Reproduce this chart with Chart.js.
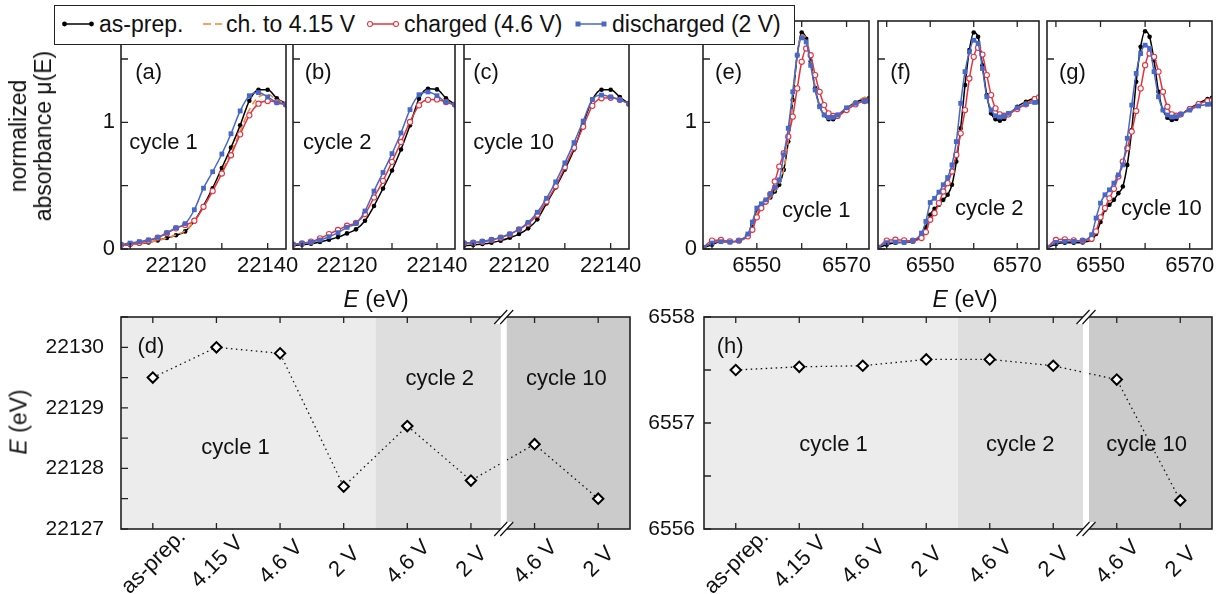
<!DOCTYPE html>
<html>
<head>
<meta charset="utf-8">
<title>XANES cycles</title>
<script src="https://cdn.jsdelivr.net/npm/chart.js@4.4.1/dist/chart.umd.min.js"></script>
<style>
  body { margin: 0; background: #fff; }
  #page { position: relative; width: 1225px; height: 594px; overflow: hidden; font-family: 'Liberation Sans', Arial, sans-serif; color: #111; }
  #page canvas { position: absolute; left: 0; top: 0; }
  .lbl { position: absolute; font-size: 23px; white-space: nowrap; transform: translate(-50%, -50%); line-height: 25px; text-align: center; z-index: 5; }
  .rot { transform: translate(-50%, -50%) rotate(-90deg); }
  #legend { position: absolute; left: 54px; top: 5px; width: 741px; height: 40px; box-sizing: border-box; border: 1.5px solid #222; background: #fff; z-index: 6; font-size: 23px; }
  #legend span, #legend svg { position: absolute; }
  #legend span { top: 50%; transform: translateY(-52%); white-space: nowrap; }
  #legend svg { top: 11px; }
</style>
</head>
<body>
<div id="page">
  <div id="legend">
    <svg style="left:7px" width="32" height="14"><line x1="2" y1="7" x2="30" y2="7" stroke="#000" stroke-width="1.5"/><circle cx="2.5" cy="7" r="2.4" fill="#000"/><circle cx="29.5" cy="7" r="2.4" fill="#000"/></svg>
    <span style="left:44px">as-prep.</span>
    <svg style="left:136px" width="32" height="14"><line x1="12" y1="7" x2="20" y2="7" stroke="#f58a3a" stroke-width="1.6"/><line x1="24" y1="7" x2="31" y2="7" stroke="#f58a3a" stroke-width="1.6"/></svg>
    <span style="left:171px">ch. to 4.15 V</span>
    <svg style="left:312px" width="32" height="14"><line x1="2" y1="7" x2="30" y2="7" stroke="#e5323e" stroke-width="1.5"/><circle cx="3" cy="7" r="2.5" fill="#fff" stroke="#e5323e" stroke-width="1.1"/><circle cx="29" cy="7" r="2.5" fill="#fff" stroke="#e5323e" stroke-width="1.1"/></svg>
    <span style="left:349px">charged (4.6 V)</span>
    <svg style="left:520px" width="32" height="14"><line x1="2" y1="7" x2="30" y2="7" stroke="#4868c8" stroke-width="1.5"/><rect x="0.5" y="4.5" width="5" height="5" fill="#4868c8"/><rect x="26.5" y="4.5" width="5" height="5" fill="#4868c8"/></svg>
    <span style="left:557px">discharged (2 V)</span>
  </div>
  <div class="lbl rot" style="left:31px; top:136px">normalized<br>absorbance &mu;(E)</div>
  <div class="lbl" style="left:376px; top:299px"><i>E</i> (eV)</div>
  <div class="lbl" style="left:965px; top:299px"><i>E</i> (eV)</div>
  <div class="lbl rot" style="left:19px; top:422px"><i>E</i> (eV)</div>
</div>
<script>
// energies of the plotted points
var niEnergy = [22108, 22110, 22112, 22114, 22116, 22118, 22120, 22122, 22124, 22126, 22128, 22130, 22132, 22134, 22136, 22138, 22140, 22142, 22144]
var mnEnergy = [6538, 6540, 6542, 6544, 6546, 6548, 6549, 6550, 6551, 6552, 6553, 6554, 6555, 6556, 6557, 6558, 6559, 6560, 6561, 6562, 6563, 6564, 6565, 6566, 6567, 6568, 6570, 6572, 6574, 6575]

// Ni K-edge, cycle 1 / 2 / 10
var aAsPrep     = [0.029, 0.034, 0.042, 0.052, 0.068, 0.087, 0.108, 0.139, 0.22, 0.34, 0.48, 0.64, 0.80, 0.976, 1.17, 1.257, 1.257, 1.19, 1.147]
var aCh415      = [0.03, 0.035, 0.043, 0.053, 0.068, 0.088, 0.11, 0.145, 0.22, 0.33, 0.46, 0.61, 0.76, 0.93, 1.10, 1.20, 1.22, 1.18, 1.145]
var aCharged    = [0.031, 0.039, 0.05, 0.066, 0.089, 0.123, 0.163, 0.19, 0.223, 0.333, 0.457, 0.596, 0.74, 0.905, 1.055, 1.147, 1.168, 1.16, 1.14]
var aDischarged = [0.037, 0.047, 0.058, 0.071, 0.092, 0.129, 0.168, 0.20, 0.31, 0.48, 0.61, 0.75, 0.91, 1.09, 1.21, 1.235, 1.20, 1.155, 1.14]

var bAsPrep     = [0.029, 0.034, 0.042, 0.055, 0.073, 0.094, 0.123, 0.155, 0.223, 0.34, 0.478, 0.62, 0.785, 0.976, 1.186, 1.265, 1.26, 1.19, 1.142]
var bCharged    = [0.034, 0.045, 0.058, 0.084, 0.118, 0.15, 0.184, 0.207, 0.276, 0.407, 0.538, 0.688, 0.845, 1.003, 1.134, 1.178, 1.181, 1.16, 1.14]
var bDischarged = [0.037, 0.045, 0.055, 0.071, 0.097, 0.129, 0.171, 0.202, 0.30, 0.457, 0.604, 0.753, 0.916, 1.10, 1.218, 1.24, 1.21, 1.16, 1.14]

var cAsPrep     = [0.026, 0.031, 0.039, 0.05, 0.066, 0.089, 0.118, 0.163, 0.234, 0.36, 0.486, 0.627, 0.785, 0.99, 1.178, 1.257, 1.257, 1.2, 1.147]
var cCharged    = [0.045, 0.05, 0.058, 0.071, 0.089, 0.115, 0.155, 0.20, 0.27, 0.375, 0.495, 0.645, 0.80, 0.965, 1.13, 1.19, 1.194, 1.178, 1.147]
var cDischarged = [0.047, 0.052, 0.06, 0.073, 0.092, 0.118, 0.155, 0.21, 0.29, 0.40, 0.53, 0.68, 0.84, 1.01, 1.18, 1.215, 1.20, 1.178, 1.147]

// Mn K-edge, cycle 1 / 2 / 10
var eAsPrep     = [0.008, 0.034, 0.06, 0.055, 0.066, 0.113, 0.19, 0.297, 0.336, 0.37, 0.407, 0.454, 0.507, 0.625, 0.848, 1.176, 1.53, 1.709, 1.66, 1.48, 1.27, 1.13, 1.058, 1.024, 1.024, 1.045, 1.11, 1.157, 1.184, 1.19]
var eCh415      = [0.01, 0.05, 0.065, 0.055, 0.062, 0.105, 0.18, 0.28, 0.33, 0.365, 0.405, 0.455, 0.51, 0.63, 0.86, 1.19, 1.53, 1.69, 1.66, 1.49, 1.28, 1.13, 1.06, 1.03, 1.03, 1.05, 1.115, 1.165, 1.195, 1.2]
var eCharged    = [0.008, 0.066, 0.071, 0.06, 0.066, 0.10, 0.152, 0.25, 0.323, 0.375, 0.433, 0.533, 0.651, 0.756, 0.887, 1.045, 1.268, 1.478, 1.583, 1.53, 1.373, 1.241, 1.136, 1.071, 1.05, 1.052, 1.097, 1.142, 1.168, 1.173]
var eDischarged = [0.013, 0.047, 0.058, 0.055, 0.066, 0.118, 0.213, 0.323, 0.357, 0.388, 0.433, 0.486, 0.546, 0.743, 0.953, 1.241, 1.53, 1.667, 1.635, 1.45, 1.255, 1.123, 1.058, 1.037, 1.04, 1.058, 1.115, 1.15, 1.168, 1.17]

var fAsPrep     = [0.01, 0.034, 0.05, 0.052, 0.058, 0.108, 0.171, 0.27, 0.318, 0.349, 0.388, 0.428, 0.507, 0.69, 0.953, 1.294, 1.57, 1.709, 1.675, 1.45, 1.215, 1.071, 1.024, 1.013, 1.026, 1.058, 1.123, 1.163, 1.19, 1.194]
var fCharged    = [0.01, 0.066, 0.073, 0.068, 0.066, 0.087, 0.134, 0.231, 0.283, 0.362, 0.454, 0.52, 0.612, 0.743, 0.913, 1.097, 1.346, 1.517, 1.588, 1.535, 1.373, 1.215, 1.11, 1.063, 1.052, 1.063, 1.105, 1.142, 1.184, 1.197]
var fDischarged = [0.013, 0.05, 0.055, 0.052, 0.066, 0.126, 0.218, 0.367, 0.40, 0.449, 0.507, 0.564, 0.664, 0.848, 1.15, 1.40, 1.556, 1.648, 1.622, 1.425, 1.202, 1.097, 1.052, 1.042, 1.05, 1.071, 1.115, 1.142, 1.157, 1.16]

var gAsPrep     = [0.008, 0.039, 0.05, 0.05, 0.052, 0.073, 0.118, 0.213, 0.31, 0.349, 0.388, 0.441, 0.493, 0.664, 0.94, 1.32, 1.596, 1.719, 1.675, 1.49, 1.241, 1.097, 1.037, 1.018, 1.026, 1.058, 1.11, 1.15, 1.184, 1.194]
var gCharged    = [0.01, 0.071, 0.076, 0.068, 0.066, 0.081, 0.139, 0.25, 0.323, 0.40, 0.475, 0.572, 0.69, 0.795, 0.927, 1.089, 1.268, 1.451, 1.543, 1.517, 1.40, 1.241, 1.123, 1.063, 1.052, 1.063, 1.105, 1.144, 1.168, 1.173]
var gDischarged = [0.013, 0.052, 0.06, 0.06, 0.068, 0.113, 0.244, 0.362, 0.428, 0.467, 0.52, 0.585, 0.664, 0.874, 1.136, 1.386, 1.543, 1.609, 1.583, 1.40, 1.202, 1.097, 1.058, 1.042, 1.045, 1.063, 1.097, 1.129, 1.142, 1.144]

// edge positions vs. state
var steps  = ['as-prep.', '4.15 V', '4.6 V', '2 V', '4.6 V', '2 V', '4.6 V', '2 V']
var niEdge = [22129.5, 22130.0, 22129.9, 22127.7, 22128.7, 22127.8, 22128.4, 22127.5]
var mnEdge = [6557.5, 6557.53, 6557.54, 6557.6, 6557.6, 6557.54, 6557.41, 6556.27]

var W = 1225, H = 594, AXH = 45
var FONT = "'Liberation Sans', Arial, sans-serif"
Chart.defaults.font.family = FONT
Chart.defaults.font.size = 22
Chart.defaults.color = '#111'

var looks = {
    asprep:     { borderColor: '#000', borderWidth: 1.5, pointStyle: 'circle', pointRadius: 2.3, pointBorderWidth: 0, pointBackgroundColor: '#000' },
    ch415:      { borderColor: '#f58a3a', borderWidth: 1.6, borderDash: [6, 4], pointRadius: 0 },
    charged:    { borderColor: '#e5323e', borderWidth: 1.5, pointStyle: 'circle', pointRadius: 2.6, pointBorderWidth: 1.1, pointBorderColor: '#e5323e', pointBackgroundColor: '#fff' },
    discharged: { borderColor: '#4868c8', borderWidth: 1.5, pointStyle: 'rect', pointRadius: 3.4, pointBorderWidth: 0, pointBackgroundColor: '#4868c8' }
}

// frame box plus inward ticks on left, bottom and top
var frame = {
    id: 'frame',
    afterDraw: function(chart){
        var ctx = chart.ctx, a = chart.chartArea, x = chart.scales.x, y = chart.scales.y
        ctx.save()
        ctx.strokeStyle = '#222'
        ctx.lineWidth = 1.3
        ctx.beginPath()
        x.ticks.forEach(function(t, i){
            var px = x.getPixelForTick(i)
            ctx.moveTo(px, a.bottom); ctx.lineTo(px, a.bottom - 6)
            ctx.moveTo(px, a.top); ctx.lineTo(px, a.top + 6)
        })
        y.ticks.forEach(function(t, i){
            var py = y.getPixelForTick(i)
            ctx.moveTo(a.left, py); ctx.lineTo(a.left + 7, py)
        })
        ctx.stroke()
        ctx.lineWidth = 1.6
        ctx.strokeRect(a.left, a.top, a.right - a.left, a.bottom - a.top)
        ctx.restore()
    }
}

// text placed at data coordinates
var notes = {
    id: 'notes',
    afterDatasetsDraw: function(chart, args, opts){
        var ctx = chart.ctx
        ctx.save()
        ctx.fillStyle = '#111'
        ctx.textBaseline = 'middle'
        ;(opts.items || []).forEach(function(n){
            ctx.font = (n.size || 22) + 'px ' + FONT
            ctx.textAlign = n.align || 'left'
            ctx.fillText(n.text, chart.scales.x.getPixelForValue(n.x), chart.scales.y.getPixelForValue(n.y))
        })
        ctx.restore()
    }
}

function gapOf(x){ return (x.getPixelForValue(5) + x.getPixelForValue(6)) / 2 + 1 }

// cycle shading, axis break and white gap for the lower panels
var shade = {
    id: 'shade',
    beforeDatasetsDraw: function(chart){
        var ctx = chart.ctx, a = chart.chartArea, x = chart.scales.x
        var m1 = (x.getPixelForValue(3) + x.getPixelForValue(4)) / 2, m2 = gapOf(x)
        ctx.save()
        ctx.fillStyle = '#ececec'; ctx.fillRect(a.left, a.top, m1 - a.left, a.bottom - a.top)
        ctx.fillStyle = '#dedede'; ctx.fillRect(m1, a.top, m2 - m1, a.bottom - a.top)
        ctx.fillStyle = '#cbcbcb'; ctx.fillRect(m2, a.top, a.right - m2, a.bottom - a.top)
        ctx.restore()
    },
    afterDatasetsDraw: function(chart){
        var ctx = chart.ctx, a = chart.chartArea, g = gapOf(chart.scales.x)
        ctx.save()
        ctx.fillStyle = '#fff'
        ctx.fillRect(g - 3, a.top, 6, a.bottom - a.top)
        ctx.restore()
    },
    afterDraw: function(chart){
        var ctx = chart.ctx, a = chart.chartArea, g = gapOf(chart.scales.x)
        ctx.save()
        ;[a.top, a.bottom].forEach(function(yy){
            ctx.fillStyle = '#fff'
            ctx.beginPath()
            ctx.moveTo(g - 9.5, yy + 7); ctx.lineTo(g + 3.5, yy - 7)
            ctx.lineTo(g + 9.5, yy - 7); ctx.lineTo(g - 3.5, yy + 7)
            ctx.closePath(); ctx.fill()
            ctx.strokeStyle = '#111'; ctx.lineWidth = 1.2
            ctx.beginPath()
            ctx.moveTo(g - 9.5, yy + 7); ctx.lineTo(g + 3.5, yy - 7)
            ctx.moveTo(g - 3.5, yy + 7); ctx.lineTo(g + 9.5, yy - 7)
            ctx.stroke()
        })
        ctx.restore()
    }
}

// 45 degree category labels, centred under their tick
var slanted = {
    id: 'slanted',
    afterDraw: function(chart){
        var ctx = chart.ctx, a = chart.chartArea, x = chart.scales.x
        ctx.save()
        ctx.fillStyle = '#111'
        ctx.font = '22px ' + FONT
        ctx.textAlign = 'center'
        ctx.textBaseline = 'middle'
        steps.forEach(function(s, i){
            ctx.save()
            ctx.translate(x.getPixelForValue(i) + 1, a.bottom + 33)
            ctx.rotate(-Math.PI / 4)
            ctx.fillText(s, 0, 0)
            ctx.restore()
        })
        ctx.restore()
    }
}

function addCanvas(){
    var c = document.createElement('canvas')
    c.width = W; c.height = H
    document.getElementById('page').insertBefore(c, document.getElementById('legend'))
    return c
}

function padFor(box, axw){
    return { left: box[0] - axw, top: box[1], right: W - box[2], bottom: H - box[3] - AXH }
}

function spectrum(box, energy, series, xmin, xmax, labelRest, showY, items){
    var axw = 40
    var datasets = series.map(function(s){
        var ds = { data: energy.map(function(e, i){ return { x: e, y: s[1][i] } }), cubicInterpolationMode: 'monotone', fill: false }
        return Object.assign(ds, looks[s[0]])
    })
    new Chart(addCanvas(), {
        type: 'line',
        data: { datasets: datasets },
        options: {
            responsive: false, animation: false, devicePixelRatio: 1,
            layout: { padding: padFor(box, axw) },
            plugins: { legend: { display: false }, tooltip: { enabled: false }, notes: { items: items } },
            scales: {
                x: { type: 'linear', min: xmin, max: xmax,
                     grid: { display: false, drawTicks: false }, border: { display: false },
                     ticks: { stepSize: 10, includeBounds: false, autoSkip: false, maxRotation: 0, minRotation: 0, padding: 4,
                              callback: function(v){ return v % 20 === labelRest ? String(v) : '' } },
                     afterFit: function(s){ s.height = AXH } },
                y: { min: 0, max: 1.8,
                     grid: { display: false, drawTicks: false }, border: { display: false },
                     ticks: { stepSize: 0.5, includeBounds: false, autoSkip: false, padding: 6,
                              callback: function(v){ return showY && (v === 0 || v === 1) ? String(v) : '' } },
                     afterFit: function(s){ s.width = axw } }
            }
        },
        plugins: [frame, notes]
    })
}

function edgePlot(box, values, ymin, ymax, yPad, items){
    var axw = box[0] - 4
    new Chart(addCanvas(), {
        type: 'line',
        data: { labels: steps, datasets: [{
            data: values, borderColor: '#111', borderWidth: 1.3, borderDash: [1.5, 3.5], tension: 0,
            pointStyle: 'rectRot', pointRadius: 5.2, pointBorderWidth: 2, pointBorderColor: '#000', pointBackgroundColor: '#fff'
        }] },
        options: {
            responsive: false, animation: false, devicePixelRatio: 1,
            layout: { padding: padFor(box, axw) },
            plugins: { legend: { display: false }, tooltip: { enabled: false }, notes: { items: items } },
            scales: {
                x: { type: 'category', offset: true,
                     grid: { display: false, drawTicks: false }, border: { display: false },
                     ticks: { display: false },
                     afterFit: function(s){ s.height = AXH } },
                y: { min: ymin, max: ymax,
                     grid: { display: false, drawTicks: false }, border: { display: false },
                     ticks: { stepSize: 0.5, autoSkip: false, padding: yPad, font: { size: 21 },
                              callback: function(v){ return Number.isInteger(v) ? String(v) : '' } },
                     afterFit: function(s){ s.width = axw } }
            }
        },
        plugins: [frame, shade, notes, slanted]
    })
}

// top row: Ni K-edge
spectrum([121, 21, 286, 249], niEnergy,
    [['discharged', aDischarged], ['charged', aCharged], ['ch415', aCh415], ['asprep', aAsPrep]],
    22108, 22144, 0, true,
    [{ text: '(a)', x: 22111.1, y: 1.39 }, { text: 'cycle 1', x: 22109.8, y: 0.835 }])
spectrum([293, 21, 455, 249], niEnergy,
    [['discharged', bDischarged], ['charged', bCharged], ['asprep', bAsPrep]],
    22108, 22144, 0, false,
    [{ text: '(b)', x: 22110.6, y: 1.39 }, { text: 'cycle 2', x: 22110.2, y: 0.835 }])
spectrum([464, 21, 629, 249], niEnergy,
    [['discharged', cDischarged], ['charged', cCharged], ['asprep', cAsPrep]],
    22108, 22144, 0, false,
    [{ text: '(c)', x: 22110.0, y: 1.39 }, { text: 'cycle 10', x: 22110.0, y: 0.835 }])

// top row: Mn K-edge
spectrum([703, 21, 869, 249], mnEnergy,
    [['discharged', eDischarged], ['charged', eCharged], ['ch415', eCh415], ['asprep', eAsPrep]],
    6538, 6575, 10, true,
    [{ text: '(e)', x: 6540.7, y: 1.39 }, { text: 'cycle 1', x: 6555.6, y: 0.30 }])
spectrum([878, 21, 1039, 249], mnEnergy,
    [['discharged', fDischarged], ['charged', fCharged], ['asprep', fAsPrep]],
    6538, 6575, 10, false,
    [{ text: '(f)', x: 6540.8, y: 1.39 }, { text: 'cycle 2', x: 6555.7, y: 0.315 }])
spectrum([1047, 21, 1212, 249], mnEnergy,
    [['discharged', gDischarged], ['charged', gCharged], ['asprep', gAsPrep]],
    6538, 6575, 10, false,
    [{ text: '(g)', x: 6540.7, y: 1.39 }, { text: 'cycle 10', x: 6554.6, y: 0.315 }])

// bottom row: edge energies
edgePlot([121, 317, 630, 529], niEdge, 22127, 22130.5, 17,
    [{ text: '(d)', x: -0.24, y: 22130 },
     { text: 'cycle 1', x: 1.3, y: 22128.34, align: 'center' },
     { text: 'cycle 2', x: 4.51, y: 22129.47, align: 'center' },
     { text: 'cycle 10', x: 6.5, y: 22129.47, align: 'center' }])
edgePlot([704, 317, 1212, 529], mnEdge, 6556, 6558, 9,
    [{ text: '(h)', x: -0.3, y: 6557.72 },
     { text: 'cycle 1', x: 1.54, y: 6556.79, align: 'center' },
     { text: 'cycle 2', x: 4.48, y: 6556.79, align: 'center' },
     { text: 'cycle 10', x: 6.47, y: 6556.79, align: 'center' }])
</script>
</body>
</html>
